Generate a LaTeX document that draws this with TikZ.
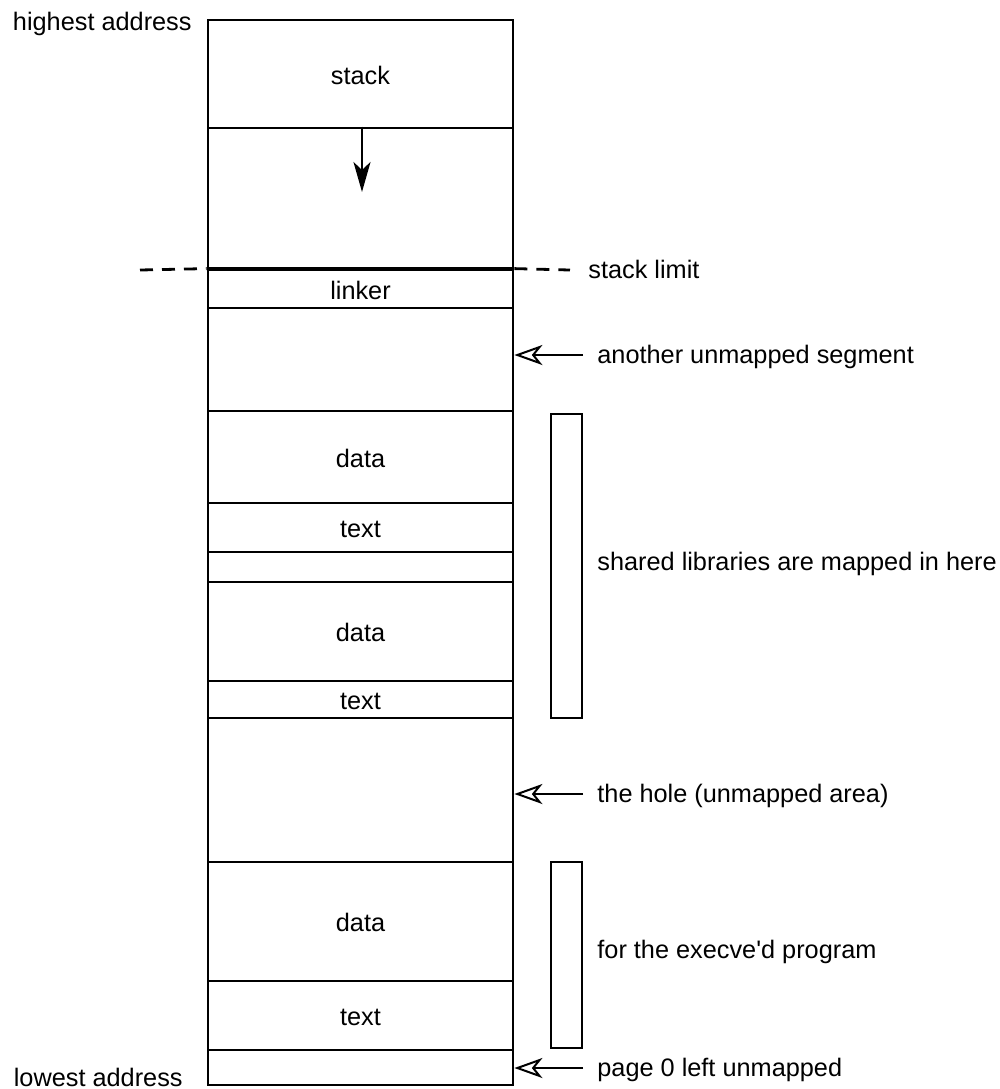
\documentclass[tikz,border=0pt]{standalone}
\usepackage{fontspec}
\setmainfont{Liberation Sans}
\usetikzlibrary{arrows.meta}
\begin{document}
\begin{tikzpicture}[x=0.5pt,y=-0.5pt,
  every node/.style={font=\fontsize{12.65pt}{15pt}\selectfont, inner sep=0pt, text height=0.9em, text depth=0.1em},
  cell/.style={draw, line width=1.4pt, minimum width=152.5pt, text height=1em, text depth=0pt},
  libbox/.style={draw, line width=1.4pt, minimum width=15.5pt, text height=0pt, text depth=0pt},
  lbl/.style={anchor=west},
  openarrow/.style={line width=1pt, -{Stealth[open, length=14pt, width=10pt, inset=4pt]}},
  growarrow/.style={line width=1.4pt, -{Stealth[length=15pt, width=8.5pt, inset=4pt]}}]
\useasboundingbox (0,0) rectangle (1000,1089);
% column cells
\node[cell, minimum height=54pt]   (c1)  at (360.5,74)    {stack};
\node[cell, minimum height=71pt]   (c2)  at (360.5,199)   {};
\node[cell, minimum height=19pt]   (c3)  at (360.5,289)   {linker};
\node[cell, minimum height=51.5pt] (c4)  at (360.5,359.5) {};
\node[cell, minimum height=46pt]   (c5)  at (360.5,457)   {data};
\node[cell, minimum height=24.5pt] (c6)  at (360.5,527.5) {text};
\node[cell, minimum height=15pt]   (c7)  at (360.5,567)   {};
\node[cell, minimum height=49.5pt] (c8)  at (360.5,631.5) {data};
\node[cell, minimum height=18.5pt] (c9)  at (360.5,699.5) {text};
\node[cell, minimum height=72pt]   (c10) at (360.5,790)   {};
\node[cell, minimum height=59.5pt] (c11) at (360.5,921.5) {data};
\node[cell, minimum height=34.5pt] (c12) at (360.5,1015.5){text};
\node[cell, minimum height=17.5pt] (c13) at (360.5,1067.5){};
% left labels
\node[anchor=east] (hi) at (192,22) {highest address};
\node[anchor=east] (lo) at (183,1078) {lowest address};
% stack growth arrow
\coordinate (sg) at (362,192);
\draw[growarrow] (c2.north -| sg) -- (sg);
% stack limit
\coordinate (dl) at (140,270);
\coordinate (dr) at (570,270);
\draw[line width=1.4pt, dash pattern=on 6.5pt off 4.5pt] (dl) -- (c3.north west);
\draw[line width=1.4pt, dash pattern=on 6.5pt off 4.5pt] (c3.north east) -- (dr);
\draw[line width=2pt] (c3.north west) -- (c3.north east);
\node[lbl] (sl) at (588,270) {stack limit};
% library boxes
\node[libbox, minimum height=152pt] (lib1) at (566.5,566) {};
\node[libbox, minimum height=93pt]  (lib2) at (566.5,955) {};
% right labels
\node[lbl] (l1) at (597,355)  {another unmapped segment};
\node[lbl] (l2) at (597,562)  {shared libraries are mapped in here};
\node[lbl] (l3) at (597,794)  {the hole (unmapped area)};
\node[lbl] (l4) at (597,950)  {for the execve\textquotesingle d program};
\node[lbl] (l5) at (597,1068) {page 0 left unmapped};
% pointer arrows
\draw[openarrow] ([xshift=-7pt]l1.west) -- (c4.east |- l1.west);
\draw[openarrow] ([xshift=-7pt]l3.west) -- (c10.east |- l3.west);
\draw[openarrow] ([xshift=-7pt]l5.west) -- (c13.east |- l5.west);
\end{tikzpicture}
\end{document}
